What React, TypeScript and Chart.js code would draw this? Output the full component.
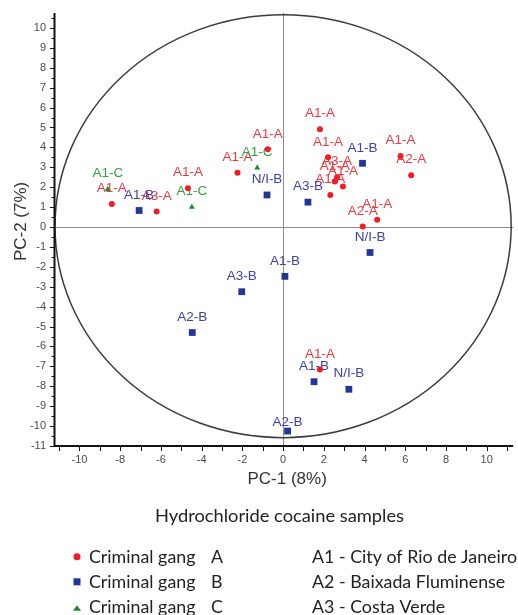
import React, { useEffect, useRef } from "react";
import { Chart, registerables } from "chart.js";

Chart.register(...registerables);

// ---- Data ----
const A_X = [-8.41, -6.21, -4.67, -2.24, -0.75, 1.81, 2.21, 2.65, 2.54, 2.94, 2.32, 5.77, 6.29, 4.62, 3.91, 1.81];
const A_Y = [1.15, 0.78, 1.95, 2.73, 3.9, 4.91, 3.5, 2.5, 2.28, 2.03, 1.61, 3.57, 2.6, 0.36, 0.03, -7.16];
const A_LABELS = ["A1-A", "A3-A", "A1-A", "A1-A", "A1-A", "A1-A", "A1-A", "A3-A", "A1-A", "A1-A", "A1-A", "A1-A", "A2-A", "A1-A", "A2-A", "A1-A"];

const B_X = [-7.07, -0.79, 1.22, 3.9, 4.27, 0.09, -2.03, -4.46, 1.52, 3.23, 0.22];
const B_Y = [0.83, 1.61, 1.25, 3.2, -1.28, -2.48, -3.25, -5.3, -7.77, -8.15, -10.25];
const B_LABELS = ["A1-B", "N/I-B", "A3-B", "A1-B", "N/I-B", "A1-B", "A3-B", "A2-B", "A1-B", "N/I-B", "A2-B"];

const C_X = [-8.61, -4.48, -1.27];
const C_Y = [1.9, 1.0, 2.98];
const C_LABELS = ["A1-C", "A1-C", "A1-C"];

const X_TICK_LABELS = [-10, -8, -6, -4, -2, 0, 2, 4, 6, 8, 10];
const Y_TICK_LABELS = [10, 9, 8, 7, 6, 5, 4, 3, 2, 1, 0, -1, -2, -3, -4, -5, -6, -7, -8, -9, -10, -11];

const ELLIPSE_CX = 0;
const ELLIPSE_CY = 0.04;
const ELLIPSE_RX = 11.2;
const ELLIPSE_RY = 10.62;

const SERIES_NAMES = ["Criminal gang", "Criminal gang", "Criminal gang"];
const SERIES_LETTERS = ["A", "B", "C"];
const REGION_NOTES = ["A1 - City of Rio de Janeiro", "A2 - Baixada Fluminense", "A3 - Costa Verde"];

const X_TITLE = "PC-1 (8%)";
const Y_TITLE = "PC-2 (7%)";
const CAPTION = "Hydrochloride cocaine samples";

// ---- Styles ----
const RED = "#f21c24";
const RED_LABEL = "#f0383e";
const BLUE = "#23359a";
const BLUE_LABEL = "#3c42aa";
const GREEN = "#1e8a24";
const GREEN_LABEL = "#35a040";
const ARIAL = '"Liberation Sans", Arial, sans-serif';
const CALIBRI = 'Lato, "Open Sans", sans-serif';

const pts = (xs: number[], ys: number[]) => xs.map((x, i) => ({ x, y: ys[i] }));

function fitText(ctx: CanvasRenderingContext2D, text: string, x: number, y: number, scale: number) {
  ctx.save();
  ctx.translate(x, y);
  ctx.scale(scale, 1);
  ctx.fillText(text, 0, 0);
  ctx.restore();
}

const overlay = {
  id: "overlay",
  beforeDatasetsDraw(chart: any) {
    const { ctx, chartArea: ca, scales } = chart;
    const x = scales.x;
    const y = scales.y;
    ctx.save();
    // crosshair at zero
    ctx.strokeStyle = "#8e8e8e";
    ctx.lineWidth = 1;
    const x0 = Math.round(x.getPixelForValue(0)) + 0.5;
    const y0 = Math.round(y.getPixelForValue(0)) + 0.5;
    ctx.beginPath();
    ctx.moveTo(x0, ca.top);
    ctx.lineTo(x0, ca.bottom);
    ctx.moveTo(ca.left, y0);
    ctx.lineTo(ca.right, y0);
    ctx.stroke();

    // confidence ellipse
    const cx = x.getPixelForValue(ELLIPSE_CX);
    const cy = y.getPixelForValue(ELLIPSE_CY);
    const rx = x.getPixelForValue(ELLIPSE_CX + ELLIPSE_RX) - cx;
    const ry = cy - y.getPixelForValue(ELLIPSE_CY + ELLIPSE_RY);
    ctx.strokeStyle = "#3c3c3c";
    ctx.lineWidth = 1.5;
    ctx.beginPath();
    ctx.ellipse(cx, cy, rx, ry, 0, 0, Math.PI * 2);
    ctx.stroke();

    // axes
    ctx.strokeStyle = "#111";
    ctx.lineWidth = 2;
    ctx.beginPath();
    ctx.moveTo(ca.left + 0.5, ca.top);
    ctx.lineTo(ca.left + 0.5, ca.bottom + 1);
    ctx.moveTo(ca.left - 0.5, ca.bottom);
    ctx.lineTo(ca.right, ca.bottom);
    ctx.stroke();
    ctx.lineWidth = 1;
    ctx.beginPath();
    for (let v = -11; v <= 10.75; v += 0.5) {
      const py = Math.round(y.getPixelForValue(v)) + 0.5;
      const major = Math.abs(v - Math.round(v)) < 1e-6;
      ctx.moveTo(ca.left - (major ? 4 : 2.5), py);
      ctx.lineTo(ca.left + (major ? 0 : 1), py);
    }
    for (let v = -11; v <= 11; v += 1) {
      const px = Math.round(x.getPixelForValue(v)) + 0.5;
      ctx.moveTo(px, ca.bottom);
      ctx.lineTo(px, ca.bottom + 5);
    }
    ctx.stroke();

    // point labels (drawn under the markers)
    ctx.font = `13.5px ${ARIAL}`;
    ctx.textAlign = "center";
    ctx.textBaseline = "middle";
    chart.data.datasets.forEach((ds: any, di: number) => {
      const meta = chart.getDatasetMeta(di);
      ctx.fillStyle = ds.labelColor;
      meta.data.forEach((el: any, i: number) => {
        const gap = el.y > ca.bottom - 20 ? 9 : 15.5;
        ctx.fillText(ds.pointLabels[i], el.x, el.y - gap);
      });
    });
    ctx.restore();
  },
  afterDraw(chart: any) {
    const { ctx, chartArea: ca, scales } = chart;
    const x = scales.x;
    const y = scales.y;
    ctx.save();
    // tick labels
    ctx.fillStyle = "#4a4a4a";
    ctx.font = `11px ${ARIAL}`;
    ctx.textAlign = "right";
    ctx.textBaseline = "middle";
    Y_TICK_LABELS.forEach((v) => ctx.fillText(String(v), ca.left - 8, y.getPixelForValue(v)));
    ctx.textAlign = "center";
    X_TICK_LABELS.forEach((v) => ctx.fillText(String(v), x.getPixelForValue(v), ca.bottom + 14));

    // axis titles
    ctx.fillStyle = "#333";
    ctx.font = `17px ${ARIAL}`;
    ctx.textAlign = "center";
    ctx.textBaseline = "middle";
    ctx.fillText(X_TITLE, x.getPixelForValue(0.2), ca.bottom + 33);
    ctx.save();
    ctx.translate(21, y.getPixelForValue(0.28));
    ctx.rotate(-Math.PI / 2);
    ctx.fillText(Y_TITLE, 0, 0);
    ctx.restore();

    // caption
    ctx.fillStyle = "#222";
    ctx.textBaseline = "alphabetic";
    ctx.font = `17px ${CALIBRI}`;
    const capW = ctx.measureText(CAPTION).width;
    ctx.textAlign = "center";
    fitText(ctx, CAPTION, 279.5, 521.5, 249 / capW);

    // legend
    ctx.font = `18px ${CALIBRI}`;
    const s = 205 / ctx.measureText(REGION_NOTES[0]).width;
    ctx.textAlign = "left";
    const rows = [563.3, 588.3, 613.3];
    const colors = [RED, BLUE, GREEN];
    rows.forEach((by, i) => {
      ctx.fillStyle = "#222";
      fitText(ctx, SERIES_NAMES[i], 89, by, s);
      fitText(ctx, SERIES_LETTERS[i], 211, by, s);
      fitText(ctx, REGION_NOTES[i], 312, by, s);
      const my = by - 6.5;
      ctx.fillStyle = colors[i];
      ctx.beginPath();
      if (i === 0) {
        ctx.arc(77, my, 3.5, 0, Math.PI * 2);
      } else if (i === 1) {
        ctx.rect(73.5, my - 3.5, 7, 7);
      } else {
        ctx.moveTo(77, my - 1.5);
        ctx.lineTo(81, my + 4);
        ctx.lineTo(73, my + 4);
        ctx.closePath();
      }
      ctx.fill();
    });
    ctx.restore();
  },
};

export default function App() {
  const ref = useRef<HTMLCanvasElement | null>(null);
  useEffect(() => {
    if (!ref.current) return;
    const chart = new Chart(ref.current, {
      type: "scatter",
      data: {
        datasets: [
          {
            label: "Criminal gang A",
            data: pts(A_X, A_Y),
            pointStyle: "circle",
            pointRadius: 3,
            backgroundColor: RED,
            borderColor: RED,
            borderWidth: 0,
            pointLabels: A_LABELS,
            labelColor: RED_LABEL,
          } as any,
          {
            label: "Criminal gang B",
            data: pts(B_X, B_Y),
            pointStyle: "rect",
            pointRadius: 4.8,
            backgroundColor: BLUE,
            borderColor: BLUE,
            borderWidth: 0,
            pointLabels: B_LABELS,
            labelColor: BLUE_LABEL,
          } as any,
          {
            label: "Criminal gang C",
            data: pts(C_X, C_Y),
            pointStyle: "triangle",
            pointRadius: 3.4,
            backgroundColor: GREEN,
            borderColor: GREEN,
            borderWidth: 0,
            pointLabels: C_LABELS,
            labelColor: GREEN_LABEL,
          } as any,
        ],
      },
      options: {
        animation: false,
        responsive: false,
        maintainAspectRatio: false,
        layout: { padding: { left: 54, right: 0, top: 13, bottom: 169 } },
        scales: {
          x: { type: "linear", min: -11.25, max: 11.3, display: false },
          y: { type: "linear", min: -11, max: 10.75, display: false },
        },
        plugins: { legend: { display: false }, tooltip: { enabled: false } },
        clip: false as any,
      },
      plugins: [overlay],
    });
    return () => chart.destroy();
  }, []);
  return (
    <div style={{ position: "fixed", left: 0, top: 0, width: 518, height: 615, background: "#fff" }}>
      <canvas ref={ref} width={518} height={615} style={{ display: "block", width: 518, height: 615 }} />
    </div>
  );
}
